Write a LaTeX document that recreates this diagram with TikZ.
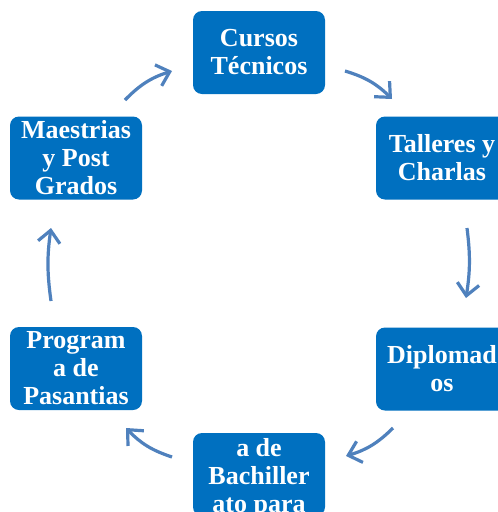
\documentclass[tikz,border=0pt]{standalone}
\usepackage{fontspec}
\setmainfont{Liberation Serif}
\usetikzlibrary{arrows.meta}
\definecolor{boxblue}{RGB}{0,112,192}
\definecolor{arrowblue}{RGB}{79,129,189}
\tikzset{
  stepbox/.style={draw=none, fill=boxblue, rounded corners=9pt, minimum width=132pt, minimum height=83pt, inner sep=0pt},
  boxtext/.style={text=white, align=center, inner sep=0pt, font=\fontsize{26}{28}\selectfont\bfseries},
  cyclearrow/.style={draw=arrowblue, line width=3.2pt, -{Straight Barb[length=12pt,width=22pt,line width=3.2pt]}, bend left=14}
}
\begin{document}
\begin{tikzpicture}[x=1pt,y=-1pt]
\clip (0,0) rectangle (498,512);
\fill[white] (0,0) rectangle (498,512);
% boxes
\node[stepbox] (cursos) at (259,52.5) {};
\node[boxtext] (tcursos) at (cursos.center) {Cursos\\Técnicos};
\node[stepbox] (talleres) at (442,158) {};
\node[boxtext] (ttalleres) at (talleres.center) {Talleres y\\Charlas};
\node[stepbox] (diplo) at (442,369) {};
\node[boxtext] (tdiplo) at (diplo.center) {Diplomad\\os};
\node[stepbox] (bach) at (259,474.5) {};
\node[boxtext, anchor=north] (tbach) at (259,438.5) {a de\\Bachiller\\ato para};
\node[stepbox] (pasan) at (76,368.5) {};
\node[boxtext] (tpasan) at (pasan.center) {Program\\a de\\Pasantias};
\node[stepbox] (maes) at (76,158) {};
\node[boxtext] (tmaes) at (maes.center) {Maestrias\\y Post\\Grados};
% arrow ends
\coordinate (a1s) at (125,100); \coordinate (a1e) at (172,71);
\coordinate (a2s) at (345,71);  \coordinate (a2e) at (392,99);
\coordinate (a3s) at (467,228); \coordinate (a3e) at (466,298);
\coordinate (a4s) at (393,428); \coordinate (a4e) at (346,456);
\coordinate (a5s) at (172,457); \coordinate (a5e) at (126,428);
\coordinate (a6s) at (51,301);  \coordinate (a6e) at (51,228);
\draw[cyclearrow] (a1s) to (a1e);
\draw[cyclearrow] (a2s) to (a2e);
\draw[cyclearrow, bend left=8] (a3s) to (a3e);
\draw[cyclearrow] (a4s) to (a4e);
\draw[cyclearrow] (a5s) to (a5e);
\draw[cyclearrow, bend left=8] (a6s) to (a6e);
\end{tikzpicture}
\end{document}
